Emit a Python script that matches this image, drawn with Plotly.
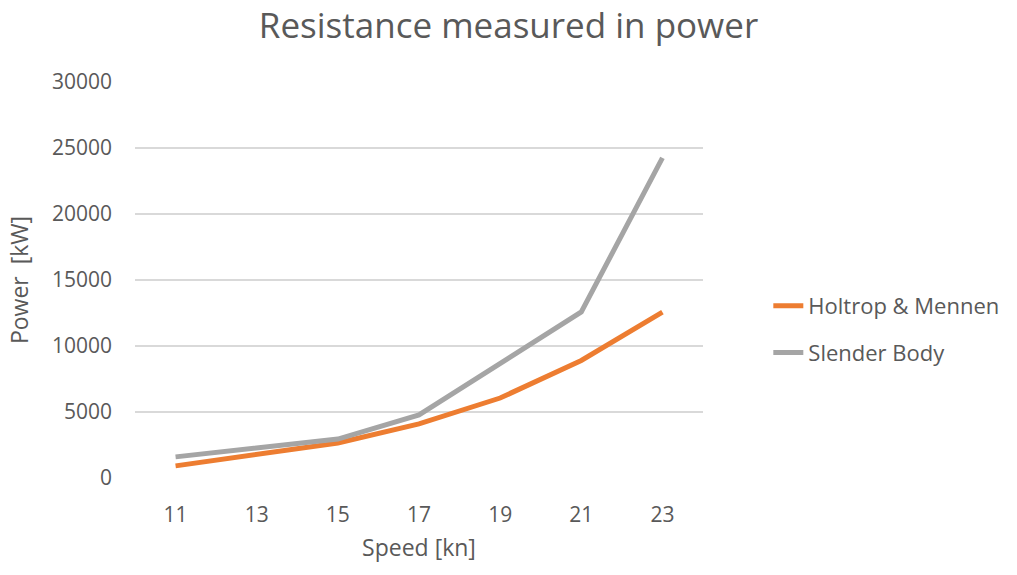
import plotly.graph_objects as go

# Ship speed in knots and the predicted power for each method
speed_kn = ["11", "13", "15", "17", "19", "21", "23"]
holtrop_mennen_kw = [920, 1750, 2650, 4100, 6060, 8900, 12560]
slender_body_kw = [1600, 2250, 2950, 4780, 8700, 12580, 24250]
y_ticks = [0, 5000, 10000, 15000, 20000, 25000, 30000]

TEXT = "#595959"
FONT = "Open Sans, DejaVu Sans, sans-serif"

fig = go.Figure()
fig.add_trace(go.Scatter(
    x=speed_kn, y=holtrop_mennen_kw, mode="lines", name="Holtrop & Mennen",
    legendgroup="hm", line=dict(color="#ED7D31", width=5),
))
fig.add_trace(go.Scatter(
    x=speed_kn, y=slender_body_kw, mode="lines", name="Slender Body",
    legendgroup="sb", line=dict(color="#A5A5A5", width=5),
))

fig.update_layout(
    width=1017, height=575,
    paper_bgcolor="white", plot_bgcolor="white",
    margin=dict(l=135, r=314, t=82, b=97),
    font=dict(family=FONT, color=TEXT, size=21),
    title=dict(text="Resistance measured in power", x=0.5, xanchor="center",
               y=0.955, yanchor="middle", font=dict(size=35, color=TEXT)),
    showlegend=True,
    legend=dict(x=1.115, y=0.375, xanchor="left", yanchor="middle",
                font=dict(size=22, color=TEXT), traceorder="grouped",
                tracegroupgap=15, itemwidth=30, bgcolor="rgba(0,0,0,0)"),
)
fig.update_xaxes(
    type="category", range=[-0.5, 6.5], showgrid=False, zeroline=False,
    showline=False, ticks="", ticklabelstandoff=22,
    tickfont=dict(size=21, color=TEXT),
    title=dict(text="Speed [kn]", font=dict(size=23, color=TEXT), standoff=12),
)
fig.update_yaxes(
    range=[0, 30000], tickvals=y_ticks, tickformat="d", showgrid=True,
    gridcolor="#D9D9D9", gridwidth=1.5, zeroline=False, showline=False,
    ticks="", ticklabelstandoff=22, tickfont=dict(size=21, color=TEXT),
    title=dict(text="Power  [kW]", font=dict(size=23, color=TEXT), standoff=16),
)

fig.write_html("out.html")
